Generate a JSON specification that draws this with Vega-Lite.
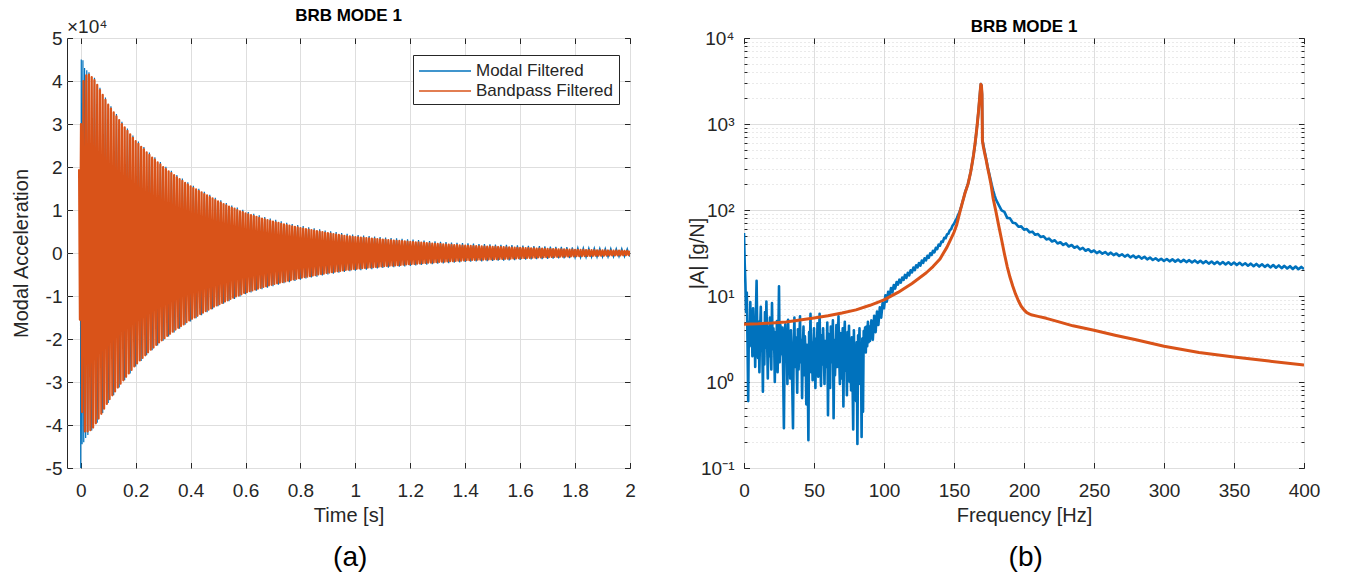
{
"$schema":"https://vega.github.io/schema/vega-lite/v6.json",
"background":"white",
"padding":{"left":10,"top":6,"right":5,"bottom":5},
"config":{
 "font":"Liberation Sans",
 "view":{"stroke":"#262626","strokeWidth":1},
 "axis":{"domain":false,"tickColor":"#262626","tickSize":-5.5,"tickWidth":1,"labelFont":"Liberation Sans","labelFontSize":19,"labelColor":"#262626","labelPadding":19,"labelFlush":false,"labelOverlap":false,"titleFont":"Liberation Sans","titleFontSize":20,"titleFontWeight":"normal","titleColor":"#262626","titlePadding":5,"gridColor":"#dedede","gridWidth":1},
 "axisY":{"labelPadding":10.5,"titlePadding":14},
 "legend":{"orient":"none","title":null,"symbolType":"M-1,0H4.2","symbolSize":400,"symbolStrokeWidth":1.5,"labelFont":"Liberation Sans","labelFontSize":17,"labelOffset":36,"labelColor":"#262626","strokeColor":"#262626","fillColor":"white","padding":5,"rowPadding":1,"labelLimit":300},
 "title":{"font":"Liberation Sans","color":"#000000"}
},
"datasets":{
"lb":[{"t":-0.001,"v":6000},{"t":0,"v":-50000},{"t":0.002,"v":45000},{"t":0.005,"v":-44500},{"t":0.008,"v":44800},{"t":0.011,"v":-44000},{"t":0.014,"v":43000},{"t":0.018,"v":-43000},{"t":0.022,"v":42500},{"t":0.026,"v":-42300},
{"t":0.03,"v":42050},{"t":0.04,"v":-41300},{"t":0.05,"v":40750},{"t":0.06,"v":-39500},{"t":0.07,"v":38450},{"t":0.08,"v":-37200},{"t":0.09,"v":36150},{"t":0.1,"v":-34900},{"t":0.11,"v":34150},{"t":0.12,"v":-33100},{"t":0.13,"v":32350},{"t":0.14,"v":-31300},{"t":0.15,"v":30550},{"t":0.16,"v":-29600},{"t":0.17,"v":28950},{"t":0.18,"v":-28000},{"t":0.19,"v":27350},{"t":0.2,"v":-26400},{"t":0.21,"v":25950},{"t":0.22,"v":-25100},{"t":0.23,"v":24650},{"t":0.24,"v":-23800},{"t":0.25,"v":23350},{"t":0.26,"v":-22600},{"t":0.27,"v":22250},{"t":0.28,"v":-21500},{"t":0.29,"v":21150},{"t":0.3,"v":-20400},{"t":0.31,"v":20050},{"t":0.32,"v":-19400},{"t":0.33,"v":19150},{"t":0.34,"v":-18500},{"t":0.35,"v":18150},{"t":0.36,"v":-17600},{"t":0.37,"v":17350},{"t":0.38,"v":-16700},{"t":0.39,"v":16450},{"t":0.4,"v":-15900},{"t":0.41,"v":15650},{"t":0.42,"v":-15200},{"t":0.43,"v":14950},{"t":0.44,"v":-14500},{"t":0.45,"v":14250},{"t":0.46,"v":-13800},{"t":0.47,"v":13550},{"t":0.48,"v":-13100},{"t":0.49,"v":12850},{"t":0.5,"v":-12400},{"t":0.51,"v":12250},{"t":0.52,"v":-11800},{"t":0.53,"v":11650},{"t":0.54,"v":-11200},{"t":0.55,"v":11050},{"t":0.56,"v":-10700},{"t":0.57,"v":10550},{"t":0.58,"v":-10100},{"t":0.59,"v":10050},{"t":0.6,"v":-9600},{"t":0.61,"v":9550},{"t":0.62,"v":-9200},{"t":0.63,"v":9150},{"t":0.64,"v":-8800},{"t":0.65,"v":8750},{"t":0.66,"v":-8400},{"t":0.67,"v":8350},{"t":0.68,"v":-8050},{"t":0.69,"v":8000},{"t":0.7,"v":-7700},{"t":0.71,"v":7700},{"t":0.72,"v":-7400},{"t":0.73,"v":7350},{"t":0.74,"v":-7050},{"t":0.75,"v":7050},{"t":0.76,"v":-6800},{"t":0.77,"v":6750},{"t":0.78,"v":-6500},{"t":0.79,"v":6500},{"t":0.8,"v":-6200},{"t":0.81,"v":6250},{"t":0.82,"v":-5950},{"t":0.83,"v":6000},{"t":0.84,"v":-5700},{"t":0.85,"v":5750},{"t":0.86,"v":-5500},{"t":0.87,"v":5500},{"t":0.88,"v":-5250},{"t":0.89,"v":5250},{"t":0.9,"v":-5000},{"t":0.91,"v":5050},{"t":0.92,"v":-4800},{"t":0.93,"v":4850},{"t":0.94,"v":-4600},{"t":0.95,"v":4650},{"t":0.96,"v":-4400},{"t":0.97,"v":4450},{"t":0.98,"v":-4250},{"t":0.99,"v":4300},{"t":1.0,"v":-4100},{"t":1.01,"v":4190},{"t":1.02,"v":-3980},{"t":1.03,"v":4070},{"t":1.04,"v":-3860},{"t":1.05,"v":3950},{"t":1.06,"v":-3740},{"t":1.07,"v":3830},{"t":1.08,"v":-3620},{"t":1.09,"v":3710},{"t":1.1,"v":-3500},{"t":1.11,"v":3600},{"t":1.12,"v":-3400},{"t":1.13,"v":3500},{"t":1.14,"v":-3300},{"t":1.15,"v":3400},{"t":1.16,"v":-3200},{"t":1.17,"v":3300},{"t":1.18,"v":-3100},{"t":1.19,"v":3200},{"t":1.2,"v":-3000},{"t":1.21,"v":3100},{"t":1.22,"v":-2900},{"t":1.23,"v":3000},{"t":1.24,"v":-2800},{"t":1.25,"v":2900},{"t":1.26,"v":-2700},{"t":1.27,"v":2800},{"t":1.28,"v":-2600},{"t":1.29,"v":2700},{"t":1.3,"v":-2500},{"t":1.31,"v":2610},{"t":1.32,"v":-2420},{"t":1.33,"v":2530},{"t":1.34,"v":-2340},{"t":1.35,"v":2450},{"t":1.36,"v":-2260},{"t":1.37,"v":2370},{"t":1.38,"v":-2180},{"t":1.39,"v":2290},{"t":1.4,"v":-2100},{"t":1.41,"v":2220},{"t":1.42,"v":-2040},{"t":1.43,"v":2160},{"t":1.44,"v":-1980},{"t":1.45,"v":2100},{"t":1.46,"v":-1930},{"t":1.47,"v":2060},{"t":1.48,"v":-1890},{"t":1.49,"v":2020},{"t":1.5,"v":-1850},{"t":1.51,"v":1970},{"t":1.52,"v":-1800},{"t":1.53,"v":1920},{"t":1.54,"v":-1750},{"t":1.55,"v":1870},{"t":1.56,"v":-1700},{"t":1.57,"v":1820},{"t":1.58,"v":-1650},{"t":1.59,"v":1770},{"t":1.6,"v":-1600},{"t":1.61,"v":1720},{"t":1.62,"v":-1550},{"t":1.63,"v":1670},{"t":1.64,"v":-1500},{"t":1.65,"v":1620},{"t":1.66,"v":-1450},{"t":1.67,"v":1570},{"t":1.68,"v":-1400},{"t":1.69,"v":1520},{"t":1.7,"v":-1350},{"t":1.71,"v":1480},{"t":1.72,"v":-1310},{"t":1.73,"v":1440},{"t":1.74,"v":-1270},{"t":1.75,"v":1400},{"t":1.76,"v":-1230},{"t":1.77,"v":1360},{"t":1.78,"v":-1190},{"t":1.79,"v":1320},{"t":1.8,"v":-1150},{"t":1.81,"v":1290},{"t":1.82,"v":-1120},{"t":1.83,"v":1260},{"t":1.84,"v":-1090},{"t":1.85,"v":1230},{"t":1.86,"v":-1070},{"t":1.87,"v":1210},{"t":1.88,"v":-1040},{"t":1.89,"v":1180},{"t":1.9,"v":-1020},{"t":1.91,"v":1160},{"t":1.92,"v":-1000},{"t":1.93,"v":1130},{"t":1.94,"v":-970},{"t":1.95,"v":1110},{"t":1.96,"v":-950},{"t":1.97,"v":1090},{"t":1.98,"v":-920},{"t":1.99,"v":1060},{"t":2.0,"v":-900}],
"lo":[{"t":-0.006,"v":19500},{"t":-0.003,"v":-15500},{"t":0.001,"v":30000},{"t":0.005,"v":-37000},{"t":0.01,"v":40000},{"t":0.015,"v":-41500},{"t":0.02,"v":41300},{"t":0.025,"v":-41500},{"t":0.03,"v":41500},
{"t":0.035,"v":-41200},{"t":0.04,"v":40900},{"t":0.045,"v":-40600},{"t":0.05,"v":40200},{"t":0.055,"v":-39600},{"t":0.06,"v":39100},{"t":0.065,"v":-38500},{"t":0.07,"v":37900},{"t":0.075,"v":-37400},{"t":0.08,"v":36800},{"t":0.085,"v":-36200},{"t":0.09,"v":35600},{"t":0.095,"v":-35100},{"t":0.1,"v":34500},{"t":0.105,"v":-34000},{"t":0.11,"v":33600},{"t":0.115,"v":-33100},{"t":0.12,"v":32700},{"t":0.125,"v":-32200},{"t":0.13,"v":31800},{"t":0.135,"v":-31300},{"t":0.14,"v":30900},{"t":0.145,"v":-30400},{"t":0.15,"v":30000},{"t":0.155,"v":-29600},{"t":0.16,"v":29200},{"t":0.165,"v":-28800},{"t":0.17,"v":28400},{"t":0.175,"v":-28000},{"t":0.18,"v":27600},{"t":0.185,"v":-27200},{"t":0.19,"v":26800},{"t":0.195,"v":-26400},{"t":0.2,"v":26000},{"t":0.205,"v":-25700},{"t":0.21,"v":25400},{"t":0.215,"v":-25000},{"t":0.22,"v":24700},{"t":0.225,"v":-24400},{"t":0.23,"v":24100},{"t":0.235,"v":-23800},{"t":0.24,"v":23400},{"t":0.245,"v":-23100},{"t":0.25,"v":22800},{"t":0.255,"v":-22500},{"t":0.26,"v":22200},{"t":0.265,"v":-22000},{"t":0.27,"v":21700},{"t":0.275,"v":-21400},{"t":0.28,"v":21100},{"t":0.285,"v":-20800},{"t":0.29,"v":20600},{"t":0.295,"v":-20300},{"t":0.3,"v":20000},{"t":0.305,"v":-19800},{"t":0.31,"v":19500},{"t":0.315,"v":-19300},{"t":0.32,"v":19000},{"t":0.325,"v":-18800},{"t":0.33,"v":18600},{"t":0.335,"v":-18300},{"t":0.34,"v":18100},{"t":0.345,"v":-17800},{"t":0.35,"v":17600},{"t":0.355,"v":-17400},{"t":0.36,"v":17200},{"t":0.365,"v":-17000},{"t":0.37,"v":16800},{"t":0.375,"v":-16600},{"t":0.38,"v":16300},{"t":0.385,"v":-16100},{"t":0.39,"v":15900},{"t":0.395,"v":-15700},{"t":0.4,"v":15500},{"t":0.405,"v":-15300},{"t":0.41,"v":15100},{"t":0.415,"v":-15000},{"t":0.42,"v":14800},{"t":0.425,"v":-14600},{"t":0.43,"v":14400},{"t":0.435,"v":-14200},{"t":0.44,"v":14100},{"t":0.445,"v":-13900},{"t":0.45,"v":13700},{"t":0.455,"v":-13500},{"t":0.46,"v":13400},{"t":0.465,"v":-13200},{"t":0.47,"v":13000},{"t":0.475,"v":-12900},{"t":0.48,"v":12700},{"t":0.485,"v":-12500},{"t":0.49,"v":12300},{"t":0.495,"v":-12200},{"t":0.5,"v":12000},{"t":0.505,"v":-11900},{"t":0.51,"v":11700},{"t":0.515,"v":-11600},{"t":0.52,"v":11400},{"t":0.525,"v":-11300},{"t":0.53,"v":11100},{"t":0.535,"v":-11000},{"t":0.54,"v":10800},{"t":0.545,"v":-10700},{"t":0.55,"v":10500},{"t":0.555,"v":-10400},{"t":0.56,"v":10300},{"t":0.565,"v":-10100},{"t":0.57,"v":10000},{"t":0.575,"v":-9900},{"t":0.58,"v":9700},{"t":0.585,"v":-9600},{"t":0.59,"v":9500},{"t":0.595,"v":-9300},{"t":0.6,"v":9200},{"t":0.605,"v":-9100},{"t":0.61,"v":9000},{"t":0.615,"v":-8900},{"t":0.62,"v":8800},{"t":0.625,"v":-8700},{"t":0.63,"v":8600},{"t":0.635,"v":-8500},{"t":0.64,"v":8400},{"t":0.645,"v":-8300},{"t":0.65,"v":8200},{"t":0.655,"v":-8100},{"t":0.66,"v":8000},{"t":0.665,"v":-7900},{"t":0.67,"v":7800},{"t":0.675,"v":-7750},{"t":0.68,"v":7650},{"t":0.685,"v":-7550},{"t":0.69,"v":7450},{"t":0.695,"v":-7400},{"t":0.7,"v":7300},{"t":0.705,"v":-7200},{"t":0.71,"v":7150},{"t":0.715,"v":-7050},{"t":0.72,"v":7000},{"t":0.725,"v":-6900},{"t":0.73,"v":6800},{"t":0.735,"v":-6750},{"t":0.74,"v":6650},{"t":0.745,"v":-6600},{"t":0.75,"v":6500},{"t":0.755,"v":-6450},{"t":0.76,"v":6400},{"t":0.765,"v":-6300},{"t":0.77,"v":6200},{"t":0.775,"v":-6150},{"t":0.78,"v":6100},{"t":0.785,"v":-6000},{"t":0.79,"v":5950},{"t":0.795,"v":-5850},{"t":0.8,"v":5800},{"t":0.805,"v":-5750},{"t":0.81,"v":5700},{"t":0.815,"v":-5600},{"t":0.82,"v":5550},{"t":0.825,"v":-5500},{"t":0.83,"v":5450},{"t":0.835,"v":-5400},{"t":0.84,"v":5300},{"t":0.845,"v":-5250},{"t":0.85,"v":5200},{"t":0.855,"v":-5150},{"t":0.86,"v":5100},{"t":0.865,"v":-5000},{"t":0.87,"v":4950},{"t":0.875,"v":-4900},{"t":0.88,"v":4850},{"t":0.885,"v":-4800},{"t":0.89,"v":4700},{"t":0.895,"v":-4650},{"t":0.9,"v":4600},{"t":0.905,"v":-4550},{"t":0.91,"v":4500},{"t":0.915,"v":-4450},{"t":0.92,"v":4400},{"t":0.925,"v":-4350},{"t":0.93,"v":4300},{"t":0.935,"v":-4250},{"t":0.94,"v":4200},{"t":0.945,"v":-4150},{"t":0.95,"v":4100},{"t":0.955,"v":-4050},{"t":0.96,"v":4000},{"t":0.965,"v":-3950},{"t":0.97,"v":3900},{"t":0.975,"v":-3900},{"t":0.98,"v":3850},{"t":0.985,"v":-3800},{"t":0.99,"v":3750},{"t":0.995,"v":-3700},{"t":1.0,"v":3700},{"t":1.005,"v":-3670},{"t":1.01,"v":3640},{"t":1.015,"v":-3610},{"t":1.02,"v":3580},{"t":1.025,"v":-3550},{"t":1.03,"v":3520},{"t":1.035,"v":-3490},{"t":1.04,"v":3460},{"t":1.045,"v":-3430},{"t":1.05,"v":3400},{"t":1.055,"v":-3370},{"t":1.06,"v":3340},{"t":1.065,"v":-3310},{"t":1.07,"v":3280},{"t":1.075,"v":-3250},{"t":1.08,"v":3220},{"t":1.085,"v":-3190},{"t":1.09,"v":3160},{"t":1.095,"v":-3130},{"t":1.1,"v":3100},{"t":1.105,"v":-3070},{"t":1.11,"v":3050},{"t":1.115,"v":-3020},{"t":1.12,"v":3000},{"t":1.125,"v":-2970},{"t":1.13,"v":2950},{"t":1.135,"v":-2920},{"t":1.14,"v":2900},{"t":1.145,"v":-2870},{"t":1.15,"v":2850},{"t":1.155,"v":-2820},{"t":1.16,"v":2800},{"t":1.165,"v":-2770},{"t":1.17,"v":2750},{"t":1.175,"v":-2720},{"t":1.18,"v":2700},{"t":1.185,"v":-2670},{"t":1.19,"v":2650},{"t":1.195,"v":-2620},{"t":1.2,"v":2600},{"t":1.205,"v":-2570},{"t":1.21,"v":2550},{"t":1.215,"v":-2520},{"t":1.22,"v":2500},{"t":1.225,"v":-2470},{"t":1.23,"v":2450},{"t":1.235,"v":-2420},{"t":1.24,"v":2400},{"t":1.245,"v":-2370},{"t":1.25,"v":2350},{"t":1.255,"v":-2320},{"t":1.26,"v":2300},{"t":1.265,"v":-2270},{"t":1.27,"v":2250},{"t":1.275,"v":-2220},{"t":1.28,"v":2200},{"t":1.285,"v":-2170},{"t":1.29,"v":2150},{"t":1.295,"v":-2120},{"t":1.3,"v":2100},{"t":1.305,"v":-2080},{"t":1.31,"v":2060},{"t":1.315,"v":-2040},{"t":1.32,"v":2020},{"t":1.325,"v":-2000},{"t":1.33,"v":1980},{"t":1.335,"v":-1960},{"t":1.34,"v":1940},{"t":1.345,"v":-1920},{"t":1.35,"v":1900},{"t":1.355,"v":-1880},{"t":1.36,"v":1860},{"t":1.365,"v":-1840},{"t":1.37,"v":1820},{"t":1.375,"v":-1800},{"t":1.38,"v":1780},{"t":1.385,"v":-1760},{"t":1.39,"v":1740},{"t":1.395,"v":-1720},{"t":1.4,"v":1700},{"t":1.405,"v":-1690},{"t":1.41,"v":1670},{"t":1.415,"v":-1660},{"t":1.42,"v":1640},{"t":1.425,"v":-1630},{"t":1.43,"v":1610},{"t":1.435,"v":-1600},{"t":1.44,"v":1580},{"t":1.445,"v":-1570},{"t":1.45,"v":1550},{"t":1.455,"v":-1540},{"t":1.46,"v":1530},{"t":1.465,"v":-1520},{"t":1.47,"v":1510},{"t":1.475,"v":-1500},{"t":1.48,"v":1490},{"t":1.485,"v":-1480},{"t":1.49,"v":1470},{"t":1.495,"v":-1460},{"t":1.5,"v":1450},{"t":1.505,"v":-1440},{"t":1.51,"v":1420},{"t":1.515,"v":-1410},{"t":1.52,"v":1400},{"t":1.525,"v":-1390},{"t":1.53,"v":1370},{"t":1.535,"v":-1360},{"t":1.54,"v":1350},{"t":1.545,"v":-1340},{"t":1.55,"v":1320},{"t":1.555,"v":-1310},{"t":1.56,"v":1300},{"t":1.565,"v":-1290},{"t":1.57,"v":1270},{"t":1.575,"v":-1260},{"t":1.58,"v":1250},{"t":1.585,"v":-1240},{"t":1.59,"v":1220},{"t":1.595,"v":-1210},{"t":1.6,"v":1200},{"t":1.605,"v":-1190},{"t":1.61,"v":1170},{"t":1.615,"v":-1160},{"t":1.62,"v":1150},{"t":1.625,"v":-1140},{"t":1.63,"v":1120},{"t":1.635,"v":-1110},{"t":1.64,"v":1100},{"t":1.645,"v":-1080},{"t":1.65,"v":1070},{"t":1.655,"v":-1060},{"t":1.66,"v":1050},{"t":1.665,"v":-1030},{"t":1.67,"v":1020},{"t":1.675,"v":-1010},{"t":1.68,"v":1000},{"t":1.685,"v":-980},{"t":1.69,"v":970},{"t":1.695,"v":-960},{"t":1.7,"v":950},{"t":1.705,"v":-940},{"t":1.71,"v":930},{"t":1.715,"v":-920},{"t":1.72,"v":910},{"t":1.725,"v":-900},{"t":1.73,"v":890},{"t":1.735,"v":-880},{"t":1.74,"v":870},{"t":1.745,"v":-860},{"t":1.75,"v":850},{"t":1.755,"v":-840},{"t":1.76,"v":830},{"t":1.765,"v":-820},{"t":1.77,"v":810},{"t":1.775,"v":-800},{"t":1.78,"v":790},{"t":1.785,"v":-780},{"t":1.79,"v":770},{"t":1.795,"v":-760},{"t":1.8,"v":750},{"t":1.805,"v":-740},{"t":1.81,"v":740},{"t":1.815,"v":-730},{"t":1.82,"v":720},{"t":1.825,"v":-710},{"t":1.83,"v":710},{"t":1.835,"v":-700},{"t":1.84,"v":690},{"t":1.845,"v":-680},{"t":1.85,"v":680},{"t":1.855,"v":-670},{"t":1.86,"v":660},{"t":1.865,"v":-660},{"t":1.87,"v":650},{"t":1.875,"v":-640},{"t":1.88,"v":640},{"t":1.885,"v":-630},{"t":1.89,"v":630},{"t":1.895,"v":-620},{"t":1.9,"v":620},{"t":1.905,"v":-610},{"t":1.91,"v":600},{"t":1.915,"v":-600},{"t":1.92,"v":590},{"t":1.925,"v":-590},{"t":1.93,"v":580},{"t":1.935,"v":-570},{"t":1.94,"v":570},{"t":1.945,"v":-560},{"t":1.95,"v":560},{"t":1.955,"v":-550},{"t":1.96,"v":550},{"t":1.965,"v":-540},{"t":1.97,"v":530},{"t":1.975,"v":-530},{"t":1.98,"v":520},{"t":1.985,"v":-510},{"t":1.99,"v":510},{"t":1.995,"v":-500},{"t":2.0,"v":500}],
"ro":[{"f":0,"v":4.7},{"f":10,"v":4.75},{"f":20,"v":4.85},{"f":30,"v":5.0},{"f":40,"v":5.25},{"f":50,"v":5.55},{"f":60,"v":5.9},{"f":70,"v":6.35},{"f":80,"v":6.9},{"f":90,"v":7.8},{"f":100,"v":9.0},{"f":110,"v":11},{"f":120,"v":14},{"f":130,"v":18.5},{"f":135,"v":22},{"f":140,"v":27},{"f":145,"v":37},{"f":150,"v":55},{"f":152,"v":68},{"f":154,"v":92},{"f":156,"v":122},{"f":158,"v":160},{"f":160,"v":200},{"f":162,"v":280},{"f":164,"v":440},{"f":165.5,"v":680},{"f":166.5,"v":950},{"f":167.5,"v":1400},{"f":168.3,"v":2000},{"f":168.8,"v":2500},{"f":169.2,"v":2900},{"f":169.6,"v":2800},{"f":170,"v":2200},{"f":170.3,"v":640},{"f":171,"v":540},{"f":172,"v":450},{"f":173,"v":380},{"f":174,"v":310},{"f":175,"v":260},{"f":176.5,"v":195},{"f":178,"v":135},{"f":180,"v":95},{"f":182,"v":65},{"f":184,"v":45},{"f":186,"v":31},{"f":188,"v":22},{"f":190,"v":16.5},{"f":192,"v":13},{"f":194,"v":10.5},{"f":196,"v":8.8},{"f":198,"v":7.6},{"f":200,"v":6.9},{"f":202,"v":6.4},{"f":205,"v":6.05},{"f":210,"v":5.8},{"f":216,"v":5.5},{"f":225,"v":5.0},{"f":235,"v":4.5},{"f":250,"v":4.0},{"f":265,"v":3.5},{"f":280,"v":3.1},{"f":300,"v":2.6},{"f":325,"v":2.2},{"f":350,"v":1.95},{"f":375,"v":1.75},{"f":400,"v":1.58}],
"rb":[{"f":0,"v":54},{"f":0.5,"v":24},{"f":1,"v":14},{"f":1.5,"v":6.5},{"f":2,"v":11},{"f":2.5,"v":3.0},{"f":3,"v":0.6},{"f":3.5,"v":5.0},{"f":4,"v":2.6},{"f":4.5,"v":8.5},{"f":5,"v":3.4},{"f":5.5,"v":6.0},{"f":6,"v":2.0},{"f":6.5,"v":7.2},{"f":7,"v":2.9},{"f":7.5,"v":4.6},{"f":8,"v":1.5},{"f":8.5,"v":6.3},{"f":9,"v":15},{"f":9.5,"v":3.6},{"f":10,"v":1.9},{"f":10.5,"v":5.0},{"f":11,"v":1.3},{"f":11.5,"v":4.0},{"f":12,"v":7.5},{"f":12.5,"v":2.3},{"f":13,"v":3.4},{"f":13.5,"v":0.77},{"f":14,"v":4.8},{"f":14.5,"v":1.6},{"f":15,"v":6.5},{"f":15.5,"v":2.5},{"f":16,"v":8.6},{"f":16.5,"v":3.1},{"f":17,"v":1.1},{"f":17.5,"v":4.4},{"f":18,"v":2.0},{"f":18.5,"v":5.6},{"f":19,"v":2.9},{"f":19.5,"v":1.4},{"f":20,"v":8.3},{"f":20.5,"v":2.4},{"f":21,"v":4.2},{"f":21.5,"v":3.2},{"f":22,"v":1.0},{"f":22.5,"v":3.8},{"f":23,"v":1.9},{"f":23.5,"v":5.1},{"f":24,"v":1.3},{"f":24.5,"v":3.0},{"f":25,"v":13},{"f":25.5,"v":1.7},{"f":26,"v":4.6},{"f":26.5,"v":3.4},{"f":27,"v":2.1},{"f":27.5,"v":4.3},{"f":28,"v":1.2},{"f":28.5,"v":0.29},{"f":29,"v":2.5},{"f":29.5,"v":4.7},{"f":30,"v":1.8},{"f":30.5,"v":3.6},{"f":31,"v":0.95},{"f":31.5,"v":5.3},{"f":32,"v":2.3},{"f":32.5,"v":3.2},{"f":33,"v":1.1},{"f":33.5,"v":4.0},{"f":34,"v":1.9},{"f":34.5,"v":0.85},{"f":35,"v":0.29},{"f":35.5,"v":2.6},{"f":36,"v":5.6},{"f":36.5,"v":1.5},{"f":37,"v":3.3},{"f":37.5,"v":2.0},{"f":38,"v":0.75},{"f":38.5,"v":4.1},{"f":39,"v":1.4},{"f":39.5,"v":2.8},{"f":40,"v":5.8},{"f":40.5,"v":1.7},{"f":41,"v":3.1},{"f":41.5,"v":0.65},{"f":42,"v":2.4},{"f":42.5,"v":4.4},{"f":43,"v":1.2},{"f":43.5,"v":3.4},{"f":44,"v":2.1},{"f":44.5,"v":0.55},{"f":45,"v":2.7},{"f":45.5,"v":1.4},{"f":46,"v":0.21},{"f":46.5,"v":3.8},{"f":47,"v":2.2},{"f":47.5,"v":6.2},{"f":48,"v":1.3},{"f":48.5,"v":2.9},{"f":49,"v":1.05},{"f":49.5,"v":2.5},{"f":50,"v":4.2},{"f":50.5,"v":1.8},{"f":51,"v":0.85},{"f":51.5,"v":3.2},{"f":52,"v":1.9},{"f":52.5,"v":4.8},{"f":53,"v":1.15},{"f":53.5,"v":2.7},{"f":54,"v":6.2},{"f":54.5,"v":2.0},{"f":55,"v":0.9},{"f":55.5,"v":3.5},{"f":56,"v":1.6},{"f":56.5,"v":4.2},{"f":57,"v":2.3},{"f":57.5,"v":0.95},{"f":58,"v":3.0},{"f":58.5,"v":1.5},{"f":59,"v":2.1},{"f":59.5,"v":4.9},{"f":60,"v":0.41},{"f":60.5,"v":3.6},{"f":61,"v":2.2},{"f":61.5,"v":0.85},{"f":62,"v":4.4},{"f":62.5,"v":1.7},{"f":63,"v":2.8},{"f":63.5,"v":5.2},{"f":64,"v":0.38},{"f":64.5,"v":3.1},{"f":65,"v":1.2},{"f":65.5,"v":2.4},{"f":66,"v":4.6},{"f":66.5,"v":1.5},{"f":67,"v":2.9},{"f":67.5,"v":5.8},{"f":68,"v":2.0},{"f":68.5,"v":0.95},{"f":69,"v":3.7},{"f":69.5,"v":2.3},{"f":70,"v":1.1},{"f":70.5,"v":4.2},{"f":71,"v":0.52},{"f":71.5,"v":3.0},{"f":72,"v":5.0},{"f":72.5,"v":1.35},{"f":73,"v":2.6},{"f":73.5,"v":0.7},{"f":74,"v":3.8},{"f":74.5,"v":1.9},{"f":75,"v":4.5},{"f":75.5,"v":1.0},{"f":76,"v":2.2},{"f":76.5,"v":0.8},{"f":77,"v":3.3},{"f":77.5,"v":1.15},{"f":78,"v":0.28},{"f":78.5,"v":4.0},{"f":79,"v":0.85},{"f":79.5,"v":2.5},{"f":80,"v":0.6},{"f":80.5,"v":2.9},{"f":81,"v":0.19},{"f":81.5,"v":3.5},{"f":82,"v":2.1},{"f":82.5,"v":4.2},{"f":83,"v":0.95},{"f":83.5,"v":2.8},{"f":84,"v":0.23},{"f":84.5,"v":3.2},{"f":85,"v":0.45},{"f":85.5,"v":3.9},{"f":86,"v":2.5},{"f":86.5,"v":4.3},{"f":87,"v":2.2},{"f":87.5,"v":4.4},{"f":88,"v":2.6},{"f":88.5,"v":5.0},{"f":89,"v":2.9},{"f":89.5,"v":4.4},{"f":90,"v":3.0},
{"f":91,"v":5.2},{"f":92,"v":3.1},{"f":93,"v":5.9},{"f":94,"v":3.8},{"f":95,"v":6.6},{"f":96,"v":4.6},{"f":97,"v":7.4},{"f":98,"v":5.6},{"f":99,"v":8.3},{"f":100,"v":7.2},{"f":101,"v":10.2},{"f":102,"v":8.6},{"f":103,"v":11.2},{"f":104,"v":9.8},{"f":105,"v":12.4},{"f":106,"v":11.0},{"f":107,"v":13.4},{"f":108,"v":12.2},{"f":109,"v":14.5},{"f":110,"v":13.6},{"f":111,"v":15.5},{"f":112,"v":14.3},{"f":113,"v":16.4},{"f":114,"v":15.4},{"f":115,"v":17.6},{"f":116,"v":16.2},{"f":117,"v":18.6},{"f":118,"v":17.4},{"f":119,"v":19.9},{"f":120,"v":18.8},{"f":121,"v":21.4},{"f":122,"v":20.0},{"f":123,"v":22.8},{"f":124,"v":21.5},{"f":125,"v":24.2},{"f":126,"v":22.6},{"f":127,"v":25.8},{"f":128,"v":24.3},{"f":129,"v":27.5},{"f":130,"v":26.0},{"f":131,"v":29.3},{"f":132,"v":27.8},{"f":133,"v":31.4},{"f":134,"v":30.0},{"f":135,"v":33.6},{"f":136,"v":32.2},{"f":137,"v":36.3},{"f":138,"v":35.0},{"f":139,"v":39.5},{"f":140,"v":38.5},{"f":141,"v":43},{"f":142,"v":42.5},{"f":143,"v":47.5},{"f":144,"v":47},{"f":145,"v":52},{"f":146,"v":53},{"f":147,"v":58},{"f":148,"v":60},{"f":149,"v":66},{"f":150,"v":69},{"f":151,"v":75},{"f":152,"v":80},{"f":153,"v":88},{"f":154,"v":95},{"f":155,"v":107},{"f":156,"v":123},{"f":157,"v":140},{"f":158,"v":162},{"f":159,"v":180},{"f":160,"v":203},{"f":161,"v":235},{"f":162,"v":283},{"f":163,"v":350},{"f":164,"v":445},{"f":165,"v":570},{"f":165.5,"v":680},{"f":166.5,"v":955},{"f":167.5,"v":1410},{"f":168.3,"v":2010},{"f":168.8,"v":2520},{"f":169.2,"v":2920},{"f":169.6,"v":2820},{"f":170,"v":2200},{"f":170.3,"v":650},{"f":171,"v":565},{"f":172,"v":470},{"f":173,"v":390},{"f":174,"v":320},{"f":175,"v":270},{"f":176,"v":230},{"f":177,"v":195},{"f":178,"v":168},{"f":179,"v":148},{"f":180,"v":132},
{"f":182,"v":114},{"f":184,"v":99},{"f":186,"v":95},{"f":188,"v":81},{"f":190,"v":80},{"f":192,"v":71},{"f":194,"v":70},{"f":196,"v":64},{"f":198,"v":64.5},{"f":200,"v":59},{"f":202,"v":60},{"f":204,"v":55},{"f":206,"v":56},{"f":208,"v":51.5},{"f":210,"v":52.5},{"f":212,"v":48.5},{"f":214,"v":49.5},{"f":216,"v":45.5},{"f":218,"v":46.5},{"f":220,"v":43},{"f":222,"v":44.5},{"f":224,"v":40.8},{"f":226,"v":42.2},{"f":228,"v":39.2},{"f":230,"v":41.0},{"f":232,"v":37.6},{"f":234,"v":39.2},{"f":236,"v":36.4},{"f":238,"v":37.8},{"f":240,"v":34.8},{"f":242,"v":36.2},{"f":244,"v":33.6},{"f":246,"v":35.0},{"f":248,"v":32.5},{"f":250,"v":33.8},{"f":252,"v":31.5},{"f":254,"v":33.0},{"f":256,"v":31.0},{"f":258,"v":32.4},{"f":260,"v":30.3},{"f":262,"v":31.9},{"f":264,"v":29.9},{"f":266,"v":31.2},{"f":268,"v":29.2},{"f":270,"v":30.6},{"f":272,"v":28.7},{"f":274,"v":30.2},{"f":276,"v":28.1},{"f":278,"v":29.6},{"f":280,"v":27.7},{"f":282,"v":29.1},{"f":284,"v":27.2},{"f":286,"v":28.6},{"f":288,"v":26.7},{"f":290,"v":28.0},{"f":292,"v":26.2},{"f":294,"v":27.5},{"f":296,"v":25.8},{"f":298,"v":27.1},{"f":300,"v":25.5},{"f":302,"v":26.9},{"f":304,"v":25.3},{"f":306,"v":26.7},{"f":308,"v":25.1},{"f":310,"v":26.5},{"f":312,"v":24.9},{"f":314,"v":26.3},{"f":316,"v":24.8},{"f":318,"v":26.1},{"f":320,"v":24.6},{"f":322,"v":25.9},{"f":324,"v":24.3},{"f":326,"v":25.7},{"f":328,"v":24.1},{"f":330,"v":25.4},{"f":332,"v":23.8},{"f":334,"v":25.2},{"f":336,"v":23.6},{"f":338,"v":25.0},{"f":340,"v":23.4},{"f":342,"v":24.8},{"f":344,"v":23.3},{"f":346,"v":24.7},{"f":348,"v":23.1},{"f":350,"v":24.5},{"f":352,"v":22.9},{"f":354,"v":24.3},{"f":356,"v":22.8},{"f":358,"v":24.0},{"f":360,"v":22.5},{"f":362,"v":23.8},{"f":364,"v":22.2},{"f":366,"v":23.6},{"f":368,"v":22.0},{"f":370,"v":23.4},{"f":372,"v":21.8},{"f":374,"v":23.1},{"f":376,"v":21.5},{"f":378,"v":22.9},{"f":380,"v":21.3},{"f":382,"v":22.7},{"f":384,"v":21.1},{"f":386,"v":22.4},{"f":388,"v":20.9},{"f":390,"v":22.2},{"f":392,"v":20.6},{"f":394,"v":22.0},{"f":396,"v":20.5},{"f":398,"v":21.8},{"f":400,"v":20.6}]
},
"spacing":51,
"hconcat":[
{"title":{"text":"(a)","orient":"bottom","fontSize":28,"fontWeight":"normal","offset":18,"anchor":"middle","dx":27,"color":"#000000"},
 "vconcat":[{
  "title":{"text":"BRB MODE 1","fontSize":17,"fontWeight":"bold","offset":-7,"anchor":"middle","frame":"group"},
  "width":563,"height":430,
  "resolve":{"axis":{"x":"independent","y":"independent"}},
  "layer":[
   {"data":{"name":"lb"},
    "mark":{"type":"line","strokeWidth":1.2,"clip":true},
    "encoding":{
     "x":{"field":"t","type":"quantitative","scale":{"domain":[-0.05,2],"nice":false,"zero":false},
          "axis":{"orient":"bottom","values":[0,0.2,0.4,0.6,0.8,1,1.2,1.4,1.6,1.8,2],"labelExpr":"''+datum.value","title":"Time [s]","grid":true}},
     "y":{"field":"v","type":"quantitative","scale":{"domain":[-50000,50000],"nice":false,"zero":false},
          "axis":{"orient":"left","values":[-50000,-40000,-30000,-20000,-10000,0,10000,20000,30000,40000,50000],"labelExpr":"''+(datum.value/10000)","title":"Modal Acceleration","grid":true}},
     "color":{"datum":"Modal Filtered","type":"nominal","scale":{"domain":["Modal Filtered","Bandpass Filtered"],"range":["#0072BD","#D95319"]},
              "legend":{"legendX":346,"legendY":17}}
    }},
   {"data":{"name":"lo"},
    "mark":{"type":"line","strokeWidth":2.2,"strokeJoin":"round","clip":true},
    "encoding":{
     "x":{"field":"t","type":"quantitative","axis":{"orient":"top","values":[0,0.2,0.4,0.6,0.8,1,1.2,1.4,1.6,1.8,2],"labels":false,"title":null,"grid":false}},
     "y":{"field":"v","type":"quantitative","axis":{"orient":"right","values":[-50000,-40000,-30000,-20000,-10000,0,10000,20000,30000,40000,50000],"labels":false,"title":null,"grid":false}},
     "color":{"datum":"Bandpass Filtered","type":"nominal"}
    }},
   {"data":{"values":[{"s":"×10⁴"}]},
    "mark":{"type":"text","align":"left","baseline":"alphabetic","fontSize":19,"dy":-5,"color":"#262626","font":"Liberation Sans"},
    "encoding":{"x":{"datum":-0.05,"type":"quantitative","axis":null},"y":{"datum":50000,"type":"quantitative","axis":null},"text":{"field":"s"}}}
  ]
 }]
},
{"title":{"text":"(b)","orient":"bottom","fontSize":28,"fontWeight":"normal","offset":18,"anchor":"middle","dx":22,"color":"#000000"},
 "vconcat":[{
  "title":{"text":"BRB MODE 1","fontSize":17,"fontWeight":"bold","offset":-7,"anchor":"middle","frame":"group"},
  "width":560,"height":430,
  "resolve":{"axis":{"x":"independent","y":"independent"}},
  "layer":[
   {"data":{"name":"rb"},
    "mark":{"type":"line","strokeWidth":2.6,"strokeJoin":"round","clip":true},
    "encoding":{
     "x":{"field":"f","type":"quantitative","scale":{"domain":[0,400],"nice":false,"zero":false},
          "axis":{"orient":"bottom","values":[0,50,100,150,200,250,300,350,400],"labelExpr":"''+datum.value","title":"Frequency [Hz]","grid":true}},
     "y":{"field":"v","type":"quantitative","scale":{"type":"log","domain":[0.1,10000],"nice":false},
          "axis":{"orient":"left","values":[0.1,0.2,0.3,0.4,0.5,0.6,0.7,0.8,0.9,1,2,3,4,5,6,7,8,9,10,20,30,40,50,60,70,80,90,100,200,300,400,500,600,700,800,900,1000,2000,3000,4000,5000,6000,7000,8000,9000,10000],
                  "labelExpr":"abs(log(datum.value)/LN10-round(log(datum.value)/LN10))>0.001 ? '' : ['10⁻¹','10⁰','10¹','10²','10³','10⁴'][round(log(datum.value)/LN10)+1]",
                  "labelPadding":15.5,"title":"|A| [g/N]","titlePadding":-7,"grid":true,
                  "gridDash":{"condition":{"test":"abs(log(datum.value)/LN10-round(log(datum.value)/LN10))<0.001","value":[]},"value":[1,3]},
                  "gridColor":{"condition":{"test":"abs(log(datum.value)/LN10-round(log(datum.value)/LN10))<0.001","value":"#dedede"},"value":"#d4d4d4"},
                  "tickSize":{"condition":{"test":"abs(log(datum.value)/LN10-round(log(datum.value)/LN10))<0.001","value":-5.5},"value":-3}}},
     "color":{"datum":"Modal Filtered","type":"nominal","scale":{"domain":["Modal Filtered","Bandpass Filtered"],"range":["#0072BD","#D95319"]},
              "legend":{"legendX":346,"legendY":18}}
    }},
   {"data":{"name":"ro"},
    "mark":{"type":"line","strokeWidth":3,"strokeJoin":"round","clip":true},
    "encoding":{
     "x":{"field":"f","type":"quantitative","axis":{"orient":"top","values":[0,50,100,150,200,250,300,350,400],"labels":false,"title":null,"grid":false}},
     "y":{"field":"v","type":"quantitative","axis":{"orient":"right","values":[0.1,0.2,0.3,0.4,0.5,0.6,0.7,0.8,0.9,1,2,3,4,5,6,7,8,9,10,20,30,40,50,60,70,80,90,100,200,300,400,500,600,700,800,900,1000,2000,3000,4000,5000,6000,7000,8000,9000,10000],"labels":false,"title":null,"grid":false,
          "tickSize":{"condition":{"test":"abs(log(datum.value)/LN10-round(log(datum.value)/LN10))<0.001","value":-5.5},"value":-3}}},
     "color":{"datum":"Bandpass Filtered","type":"nominal"}
    }}
  ]
 }]
}
]
}
